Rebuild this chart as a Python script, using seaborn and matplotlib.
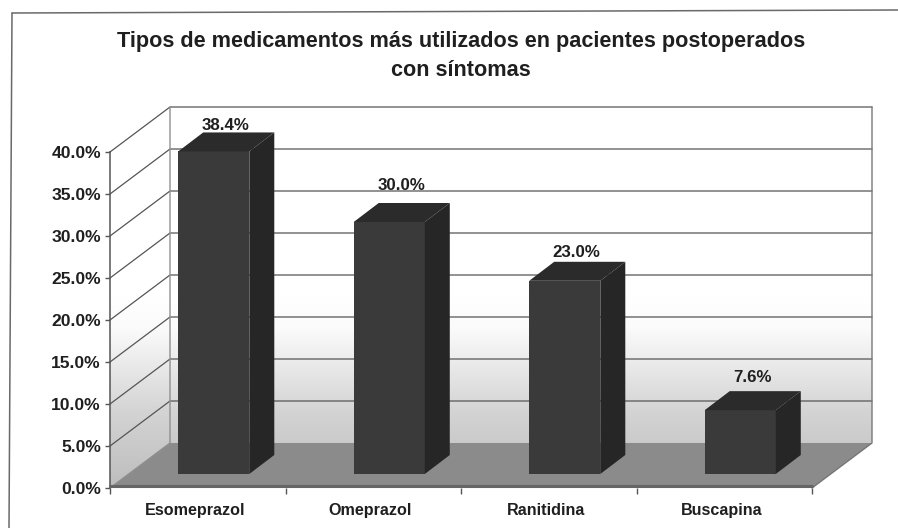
"""Percent of postoperative patients by medication, drawn as a pseudo-3D bar chart."""

import matplotlib

matplotlib.use("Agg")

import matplotlib.pyplot as plt
import numpy as np
import pandas as pd
import seaborn as sns
from matplotlib.colors import LinearSegmentedColormap
from matplotlib.lines import Line2D
from matplotlib.patches import Polygon
from matplotlib.transforms import ScaledTranslation

medications = ["Esomeprazol", "Omeprazol", "Ranitidina", "Buscapina"]
percentages = [38.4, 30.0, 23.0, 7.6]
value_labels = ["38.4%", "30.0%", "23.0%", "7.6%"]
y_ticks = [0, 5, 10, 15, 20, 25, 30, 35, 40]
title = "Tipos de medicamentos más utilizados en pacientes postoperados\ncon síntomas"

FIG_W, FIG_H = 898, 528
PLOT_LEFT, PLOT_RIGHT, PLOT_TOP, PLOT_BOTTOM = 110, 812, 152, 488
PX_PER_CAT = (PLOT_RIGHT - PLOT_LEFT) / 4
PX_PER_PCT = (PLOT_BOTTOM - PLOT_TOP) / 40

# Depth of the box and of the bars, in data units of each axis.
BOX_DX, BOX_DY = 60 / PX_PER_CAT, 45 / PX_PER_PCT
BAR_DX, BAR_DY = 25 / PX_PER_CAT, 19 / PX_PER_PCT
# The bars stand partway into the floor.
BAR_SHIFT_X, BAR_SHIFT_Y = 16, 14
LABEL_LIFT = [7, 17, 9, 14]

LINE = "#555555"
TEXT = "#1f1f1f"


def axes_rect(shift_x=0, shift_y=0):
    """Figure-fraction rectangle of the plot area, shifted in pixels."""
    return [
        (PLOT_LEFT + shift_x) / FIG_W,
        (FIG_H - PLOT_BOTTOM + shift_y) / FIG_H,
        (PLOT_RIGHT - PLOT_LEFT) / FIG_W,
        (PLOT_BOTTOM - PLOT_TOP) / FIG_H,
    ]


def draw_box(ax):
    """Draw the walls, floor and gridlines behind the bars."""
    x0, x1 = -0.5, 3.5
    walls = Polygon(
        [
            (x0, 0),
            (x0 + BOX_DX, BOX_DY),
            (x1 + BOX_DX, BOX_DY),
            (x1 + BOX_DX, 40 + BOX_DY),
            (x0 + BOX_DX, 40 + BOX_DY),
            (x0, 40),
        ],
        closed=True,
        facecolor="none",
        edgecolor="none",
        clip_on=False,
    )
    ax.add_patch(walls)

    shade = LinearSegmentedColormap.from_list(
        "wall", [(0, "#bdbdbd"), (0.2, "#d4d4d4"), (0.42, "#fbfbfb"), (0.5, "#ffffff"), (1, "#ffffff")]
    )
    image = ax.imshow(
        np.linspace(1, 0, 256).reshape(-1, 1),
        extent=(x0, x1 + BOX_DX, 0, 40 + BOX_DY),
        cmap=shade,
        vmin=0,
        vmax=1,
        aspect="auto",
        zorder=0,
    )
    image.set_clip_box(ax.figure.bbox)
    image.set_clip_path(walls)

    ax.add_patch(
        Polygon(
            [(x0, 0), (x1, 0), (x1 + BOX_DX, BOX_DY), (x0 + BOX_DX, BOX_DY)],
            closed=True,
            facecolor="#8b8b8b",
            edgecolor="none",
            clip_on=False,
            zorder=1,
        )
    )

    for tick in y_ticks[1:]:
        ax.plot(
            [x0, x0 + BOX_DX, x1 + BOX_DX],
            [tick, tick + BOX_DY, tick + BOX_DY],
            color=LINE,
            lw=0.9,
            clip_on=False,
            zorder=2,
        )
    ax.plot(
        [x0, x0 + BOX_DX, x0 + BOX_DX],
        [0, BOX_DY, 40 + BOX_DY],
        color="#8f8f8f",
        lw=1.0,
        clip_on=False,
        zorder=2,
    )
    ax.plot(
        [x1, x1 + BOX_DX, x1 + BOX_DX],
        [0, BOX_DY, 40 + BOX_DY],
        color="#777777",
        lw=1.0,
        clip_on=False,
        zorder=2,
    )
    ax.plot([x0, x1], [0.25, 0.25], color="#666666", lw=2.2, clip_on=False, zorder=3)
    ax.set_xlim(x0, x1)
    ax.set_ylim(0, 40)


def draw_bars(ax, data):
    """Draw the bars with seaborn, then add their top and side faces."""
    sns.barplot(
        data=data,
        x="medication",
        y="percentage",
        order=medications,
        color="#3a3a3a",
        saturation=1,
        width=0.405,
        linewidth=0,
        ax=ax,
    )
    ax.set_xlim(-0.5, 3.5)
    ax.set_ylim(0, 40)
    ax.axis("off")

    for bar, text, lift in zip(list(ax.patches), value_labels, LABEL_LIFT):
        left, right = bar.get_x(), bar.get_x() + bar.get_width()
        top = bar.get_height()
        ax.add_patch(
            Polygon(
                [
                    (left, top),
                    (left + BAR_DX, top + BAR_DY),
                    (right + BAR_DX, top + BAR_DY),
                    (right, top),
                ],
                closed=True,
                facecolor="#2b2b2b",
                edgecolor="none",
                clip_on=False,
            )
        )
        ax.add_patch(
            Polygon(
                [
                    (right, 0),
                    (right + BAR_DX, BAR_DY),
                    (right + BAR_DX, top + BAR_DY),
                    (right, top),
                ],
                closed=True,
                facecolor="#262626",
                edgecolor="none",
                clip_on=False,
            )
        )
        ax.annotate(
            text,
            xy=((left + right) / 2, top + BAR_DY),
            xytext=(8.5, lift * 0.72),
            textcoords="offset points",
            ha="center",
            va="center",
            fontsize=12.2,
            fontweight="bold",
            color=TEXT,
            annotation_clip=False,
        )


def main():
    sns.set_theme(style="white")
    plt.rcParams["font.family"] = ["Liberation Sans", "DejaVu Sans"]

    data = pd.DataFrame({"medication": medications, "percentage": percentages})
    fig = plt.figure(figsize=(FIG_W / 100, FIG_H / 100), dpi=100, facecolor="white")

    ax = fig.add_axes(axes_rect())
    ax.set_facecolor("none")
    draw_box(ax)

    ax.set_yticks(y_ticks, [f"{tick:.1f}%" for tick in y_ticks])
    ax.set_xticks(range(len(medications)), medications)
    ax.set_xticks([-0.5, 0.5, 1.5, 2.5, 3.5], minor=True)
    ax.tick_params(axis="y", left=True, length=3.5, width=1, color=LINE, pad=3,
                   labelsize=12.6, labelcolor=TEXT)
    ax.tick_params(axis="x", which="major", bottom=False, length=0, pad=11,
                   labelsize=11.6, labelcolor=TEXT)
    ax.tick_params(axis="x", which="minor", bottom=True, length=4, width=1, color=LINE)
    for label in ax.get_yticklabels() + ax.get_xticklabels():
        label.set_fontweight("bold")
    # Category names sit a little left of the slot centres.
    nudge = ScaledTranslation(-2 / 72, 0, fig.dpi_scale_trans)
    for label in ax.get_xticklabels():
        label.set_transform(label.get_transform() + nudge)
    for side in ("top", "right", "bottom"):
        ax.spines[side].set_visible(False)
    ax.spines["left"].set_color(LINE)
    ax.spines["left"].set_linewidth(1.1)

    bar_ax = fig.add_axes(axes_rect(BAR_SHIFT_X, BAR_SHIFT_Y))
    bar_ax.set_facecolor("none")
    draw_bars(bar_ax, data)

    fig.text(
        461 / FIG_W,
        1 - 56 / FIG_H,
        title,
        ha="center",
        va="center",
        fontsize=15.6,
        fontweight="bold",
        color=TEXT,
        linespacing=1.5,
    )

    # Scanned chart frame, only the left and top edges survive.
    fig.add_artist(Line2D([12 / FIG_W, 9 / FIG_W], [1 - 13 / FIG_H, 0], color="#6a6a6a", lw=1.1))
    fig.add_artist(Line2D([12 / FIG_W, 1], [1 - 13 / FIG_H, 1 - 10 / FIG_H], color="#6a6a6a", lw=1.1))

    fig.savefig("out.png", dpi=100)
    plt.close(fig)


if __name__ == "__main__":
    main()
